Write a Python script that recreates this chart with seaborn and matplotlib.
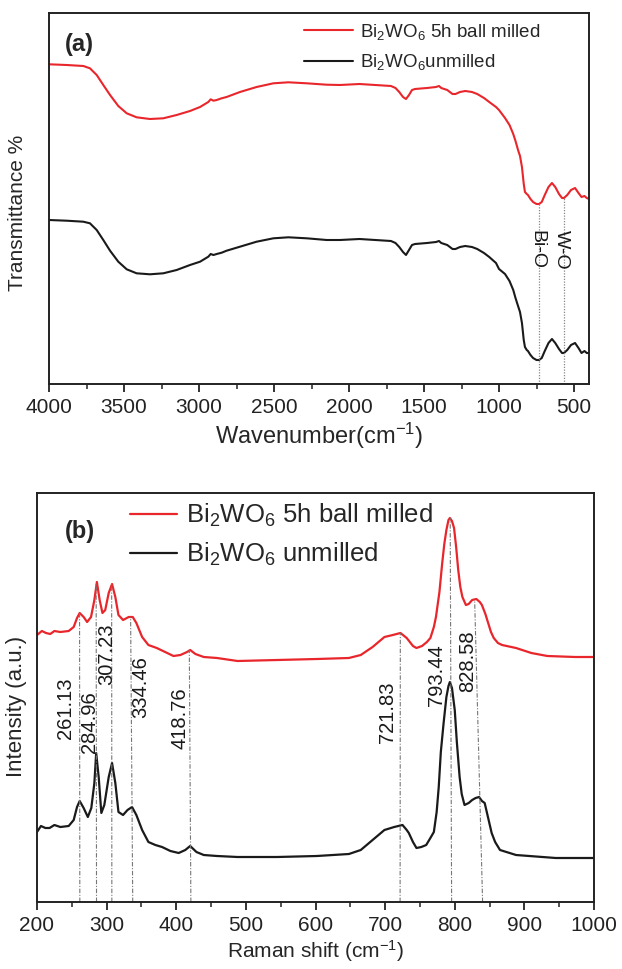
import matplotlib
matplotlib.use("Agg")
import matplotlib.pyplot as plt
import seaborn as sns
import pandas as pd
from matplotlib.ticker import MultipleLocator, NullLocator

# ---------------- data: FTIR (panel a) ----------------
ftir_wn = [4000, 3882, 3771, 3727, 3682, 3638, 3593, 3538, 3482, 3416, 3327, 3238, 3149, 3060,
           2993, 2938, 2922, 2904, 2882, 2849, 2816, 2727, 2616, 2504, 2404, 2282, 2149, 2060,
           1930, 1720, 1690, 1665, 1640, 1620, 1600, 1580, 1560, 1480, 1420, 1400, 1385, 1345,
           1310, 1290, 1260, 1225, 1180, 1145, 1100, 1065, 1020,
           1000, 960, 930, 905, 890, 873, 860, 847, 835, 827, 815, 807, 790, 773, 750, 733, 715,
           695, 670, 647, 625, 600, 580, 567, 545, 520, 493, 470, 450, 430, 415, 400]
ftir_milled = [319.7, 319, 318, 315.7, 309, 299, 289, 278, 270.7, 266.7, 265, 265.7, 269, 273,
               277, 282, 284.7, 283.3, 284, 285.7, 287, 292, 297, 300.7, 301.7, 300.7, 299.3, 299,
               300, 298, 296, 292, 287, 285, 289, 294, 295, 296, 297, 298, 296, 294,
               290, 290, 292, 293, 292, 290, 286, 282, 277,
               274, 266, 259, 250, 243, 234, 228, 217, 200, 192, 190, 189, 185, 182, 180, 180, 182,
               189, 197, 201, 197, 190, 186, 186, 189, 194, 196, 191, 187, 188, 186, 185]
ftir_unmilled = [164, 163.3, 162.3, 160.7, 154, 144, 133.3, 122.3, 114.7, 110.7, 109.7, 110.7, 114, 119,
                 122.3, 127.3, 130, 129, 130, 131.3, 133.3, 137.3, 142.3, 145.7, 146.7, 145.7, 144, 144,
                 145, 143, 141, 137, 132, 129, 134, 139, 140, 141, 142, 143, 141, 139,
                 135, 135, 137, 138, 137, 135, 131, 127, 121,
                 115, 110, 103, 94, 86, 78, 72, 61, 44, 37, 34, 33, 29, 26, 24, 24, 26,
                 33, 41, 45, 41, 35, 31, 31, 34, 39, 41, 36, 31, 33, 31, 31]
ftir_marks_wn = [733, 567]
ftir_marks_top = [180, 186]
ftir_marks_lab = ["Bi-O", "W-O"]
ftir_marks_lab_x = [749, 585]
ftir_marks_lab_y = [134, 134]

# ---------------- data: Raman (panel b) ----------------
raman_x_milled = [200, 207, 213, 219, 225, 233.5, 245.5, 252.7, 257.5, 261.3, 267, 272, 277.6, 282.4,
                  286, 290, 294, 298, 303, 307.8, 312.5, 317, 323.6, 331.7, 337.5, 342.7, 351, 360,
                  372, 384, 396, 406, 415.5, 420, 427.5, 439.5, 458.6, 488, 545, 602, 648, 665, 682,
                  699, 711, 722, 731, 740, 745, 753, 760, 765, 770, 773, 778, 782, 785, 788, 791,
                  793, 796, 799, 802, 805, 808, 811, 816, 820, 825, 831, 836, 839, 844, 848, 852,
                  856, 862, 868, 888, 910, 933, 973, 1000]
raman_milled = [267, 271, 269, 268, 271, 270, 271, 275, 284, 289, 285, 280, 285, 302,
                320, 302, 289, 292, 309, 318, 305, 287, 282, 285, 285, 279, 265, 257,
                254, 250, 246, 247, 250, 252, 248, 245, 244, 241, 242, 243, 244, 247, 255,
                265, 267, 269, 264, 256, 254, 256, 260, 264, 275, 285, 310, 339, 358, 372, 382,
                384, 381, 374, 355, 332, 315, 305, 297, 298, 302, 303, 300, 297, 288, 279, 270,
                264, 259, 257, 254, 249, 246, 245, 245]
raman_x_unmilled = [200, 205.7, 212, 218, 225, 233.5, 245.5, 252.7, 257.5, 261.3, 267, 273, 278, 282.4,
                    285, 288.6, 292.4, 296.7, 303, 307.8, 312.5, 317, 323.6, 330, 336.5, 342.7, 351,
                    360, 370, 379.6, 391.6, 403.5, 413, 420, 429, 439.5, 458.6, 488, 545, 602, 648,
                    665, 682, 699, 713, 725, 731, 734, 740, 745, 752, 759, 765, 770, 774, 777, 780,
                    784, 788, 791, 793, 796, 800, 803, 807, 810, 814, 820, 825, 830, 835, 839, 843,
                    848, 853, 858, 865, 888, 945, 1000]
raman_unmilled = [70, 76, 74, 74, 77, 75, 76, 82, 95, 101, 94, 85, 94, 119,
                  149, 125, 89, 97, 125, 139, 119, 90, 87, 92, 95, 87, 72,
                  60, 57, 55, 51, 49, 52, 56, 50, 47, 46, 45, 45, 46, 48,
                  52, 62, 72, 75, 77, 72, 69, 60, 54, 55, 57, 64, 70, 90, 115, 150,
                  179, 205, 216, 220, 214, 192, 160, 125, 108, 97, 99, 102, 104, 105, 101, 99,
                  84, 69, 60, 52, 47, 44, 44]
peak_pos = [261.13, 284.96, 307.23, 334.46, 418.76, 721.83, 793.44, 828.58]
peak_bottom = [261.5, 285.5, 307.5, 337.5, 421, 721.5, 795.5, 840]
peak_top = [289, 318, 318, 285, 252, 269, 384, 302]
peak_lab_x = [241, 275, 300.6, 349, 406, 704, 774, 819]
peak_lab_y = [194, 180, 248, 215, 184, 190, 227, 241]

# ---------------- style ----------------
sns.set_theme(style="white")
plt.rcParams['font.family'] = ['Liberation Sans', 'DejaVu Sans']
plt.rcParams['mathtext.fontset'] = 'custom'
plt.rcParams['mathtext.rm'] = 'Liberation Sans'
plt.rcParams['mathtext.it'] = 'Liberation Sans'
plt.rcParams['mathtext.default'] = 'regular'

RED = '#e8262b'
BLK = '#1a1a1a'

fig = plt.figure(figsize=(6.22, 9.69), dpi=100)
axa = fig.add_axes([49/622, (969-384)/969, 540/622, 371/969])
axb = fig.add_axes([37/622, (969-902)/969, 557/622, 409/969])

# ---- panel a ----
dfa = pd.DataFrame({'wn': ftir_wn, 'milled': ftir_milled, 'unmilled': ftir_unmilled})
sns.lineplot(data=dfa, x='wn', y='milled', ax=axa, color=RED, lw=1.5,
             label='Bi$_{2}$WO$_{6}$ 5h ball milled')
sns.lineplot(data=dfa, x='wn', y='unmilled', ax=axa, color=BLK, lw=1.5,
             label='Bi$_{2}$WO$_{6}$unmilled')
axa.vlines(ftir_marks_wn, 0, ftir_marks_top, colors='#888888', linestyles=(0, (1, 1.2)), lw=0.9)
for lx, ly, lab in zip(ftir_marks_lab_x, ftir_marks_lab_y, ftir_marks_lab):
    axa.text(lx, ly, lab, rotation=-90, ha='center', va='center', fontsize=14, color=BLK)
axa.set_xlim(4000, 400)
axa.set_ylim(0, 371)
axa.xaxis.set_major_locator(MultipleLocator(500))
axa.xaxis.set_minor_locator(MultipleLocator(250))
axa.yaxis.set_major_locator(NullLocator())
axa.set_xlabel('Wavenumber(cm$^{-1}$)', fontsize=17, labelpad=3)
axa.set_ylabel('Transmittance %', fontsize=15)
axa.yaxis.set_label_coords(-0.04, 0.461)
axa.text(0.03, 0.915, '(a)', transform=axa.transAxes, fontsize=17, fontweight='bold',
         ha='left', va='center')
axa.legend(loc='upper left', bbox_to_anchor=(0.451, 1.006), frameon=False,
           fontsize=13.5, handlelength=2.6, handletextpad=0.4, labelspacing=0.55,
           borderaxespad=0.2)

# ---- panel b ----
dfm = pd.DataFrame({'shift': raman_x_milled, 'intensity': raman_milled})
dfu = pd.DataFrame({'shift': raman_x_unmilled, 'intensity': raman_unmilled})
sns.lineplot(data=dfm, x='shift', y='intensity', ax=axb, color=RED, lw=1.6,
             label='Bi$_2$WO$_6$ 5h ball milled')
sns.lineplot(data=dfu, x='shift', y='intensity', ax=axb, color=BLK, lw=1.6,
             label='Bi$_2$WO$_6$ unmilled')
for xb, xt, yt in zip(peak_bottom, peak_pos, peak_top):
    axb.plot([xb, xt], [0, yt], color='#777777', lw=0.8, ls=(0, (4, 1.5, 1, 1.5)))
for lx, ly, p in zip(peak_lab_x, peak_lab_y, peak_pos):
    axb.text(lx, ly, f'{p:.2f}', rotation=90, ha='center', va='center', fontsize=14.5, color=BLK)
axb.set_xlim(200, 1000)
axb.set_ylim(0, 409)
axb.xaxis.set_major_locator(MultipleLocator(100))
axb.xaxis.set_minor_locator(MultipleLocator(50))
axb.yaxis.set_major_locator(NullLocator())
axb.set_xlabel('Raman shift (cm$^{-1}$)', fontsize=15, labelpad=2)
axb.set_ylabel('Intensity (a.u.)', fontsize=16)
axb.yaxis.set_label_coords(-0.018, 0.479)
axb.text(0.05, 0.905, '(b)', transform=axb.transAxes, fontsize=17, fontweight='bold',
         ha='left', va='center')
axb.legend(loc='upper left', bbox_to_anchor=(0.139, 1.015), frameon=False,
           fontsize=18.5, handlelength=1.85, handletextpad=0.35, labelspacing=0.45,
           borderaxespad=0.2)

for ax in (axa, axb):
    for s in ax.spines.values():
        s.set_color('#222222')
        s.set_linewidth(1.4)
    ax.tick_params(axis='x', which='major', direction='out', length=6, width=1.3,
                   labelsize=15, colors='#222222', pad=4, bottom=True)
    ax.tick_params(axis='x', which='minor', direction='out', length=3.5, width=1.1,
                   colors='#222222', bottom=True)
    ax.tick_params(axis='y', left=False, labelleft=False)

fig.savefig('out.png', dpi=100)
